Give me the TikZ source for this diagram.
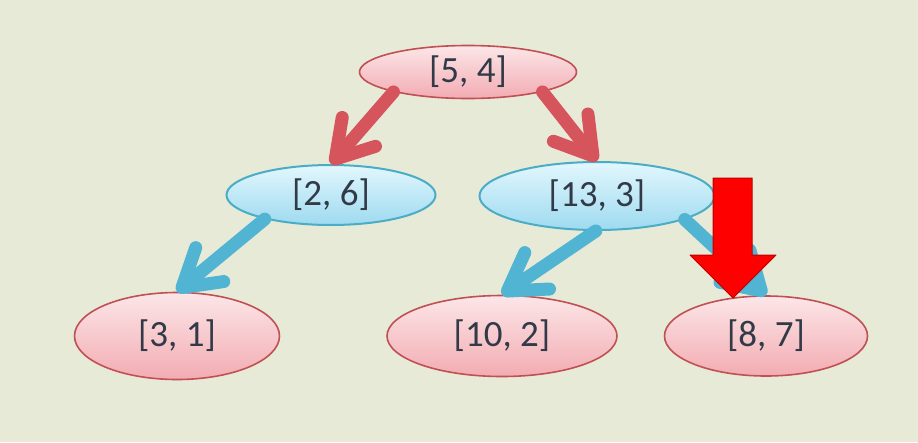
\documentclass[tikz,border=0pt]{standalone}
\usepackage{fontspec}
\setmainfont{Carlito}
\usetikzlibrary{arrows.meta}
\definecolor{paper}{RGB}{232,234,216}
\definecolor{pinktop}{RGB}{252,230,232}
\definecolor{pinkbot}{RGB}{242,172,178}
\definecolor{pinkline}{RGB}{192,80,84}
\definecolor{bluetop}{RGB}{226,247,253}
\definecolor{bluebot}{RGB}{158,218,240}
\definecolor{blueline}{RGB}{75,172,198}
\definecolor{redarrow}{RGB}{214,84,92}
\definecolor{bluearrow}{RGB}{80,180,210}
\definecolor{inkgrey}{RGB}{50,58,72}
\tikzset{
	pinknode/.style={ellipse,draw=pinkline,line width=1.6pt,top color=pinktop,bottom color=pinkbot,text=inkgrey,font=\fontsize{37}{44}\selectfont,inner sep=0pt},
	bluenode/.style={ellipse,draw=blueline,line width=2pt,top color=bluetop,bottom color=bluebot,text=inkgrey,font=\fontsize{37}{44}\selectfont,inner sep=0pt},
	rededge/.style={draw=redarrow,line width=13pt,line cap=round,-{Straight Barb[length=36pt,width=44pt,line width'=13pt,line cap=round,line join=round]}},
	blueedge/.style={draw=bluearrow,line width=13pt,line cap=round,-{Straight Barb[length=36pt,width=44pt,line width'=13pt,line cap=round,line join=round]}}
}
\usetikzlibrary{shapes.geometric}
\begin{document}
\begin{tikzpicture}[x=1pt,y=-1pt]
	\fill[paper] (0,0) rectangle (918,442);
	\useasboundingbox (0,0) rectangle (918,442);

	%top node
	\node[pinknode,minimum width=217pt,minimum height=53pt] (n54) at (468,72) {[5, 4]};

	%middle nodes
	\node[bluenode,minimum width=209pt,minimum height=60pt] (n26) at (331,195) {[2, 6]};
	\node[bluenode,minimum width=235pt,minimum height=68pt] (n133) at (597,196) {[13, 3]};

	%bottom nodes
	\node[pinknode,minimum width=205pt,minimum height=87pt] (n31) at (177,336) {[3, 1]};
	\node[pinknode,minimum width=230pt,minimum height=81pt] (n102) at (502,336) {[10, 2]};
	\node[pinknode,minimum width=203pt,minimum height=80pt] (n87) at (766,336) {[8, 7]};

	%edges
	\draw[rededge] (n54.195) -- (n26.north);
	\draw[rededge] (n54.345) -- (n133.north);
	\draw[blueedge] (n26.200) -- (n31.north);
	\draw[blueedge] (n133.268) -- (n102.north);
	\draw[blueedge] (n133.345) -- (n87.north);

	%big arrow
	\filldraw[fill=red,draw={rgb,255:red,190;green,0;blue,0},line width=1pt,line join=round]
		(713,178) -- (752,178) -- (752,255) -- (776,255) -- (733,298) -- (690,255) -- (713,255) -- cycle;
\end{tikzpicture}
\end{document}
